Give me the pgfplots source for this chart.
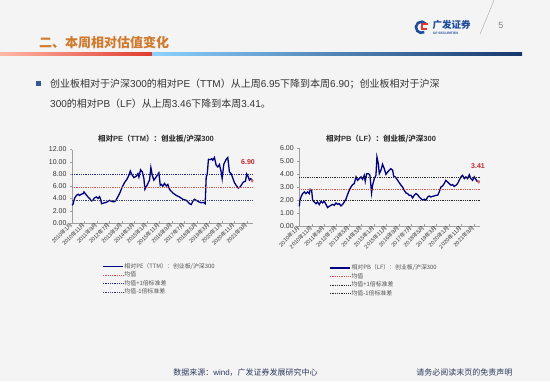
\documentclass[border=0pt]{standalone}
\usepackage{pgfplots}
\pgfplotsset{compat=1.18}
\usepackage{fontspec}
\setmainfont{Liberation Sans}
\newfontfamily\cjk{Noto Sans CJK SC}
\newcommand\zh[1]{{\cjk #1}}
\definecolor{bg}{HTML}{F4F4F4}
\definecolor{navyline}{HTML}{000080}
\definecolor{meanred}{HTML}{D9534F}
\definecolor{sdblue}{HTML}{1F2A7A}
\definecolor{sdgrey}{HTML}{3A3F6A}
\definecolor{titleorange}{HTML}{D07A2E}
\definecolor{gfblue}{HTML}{1F4E9A}
\definecolor{gfred}{HTML}{E03A2F}
\definecolor{footer}{HTML}{2E3A5E}
\definecolor{labred}{HTML}{C0282D}
\definecolor{txt}{HTML}{333333}

\pgfplotstableread{
m v
0 2.9
0.8 3.05
2 4.0
3.5 4.5
5 4.7
6 4.5
7.5 4.7
9 4.8
9.6 5.07
11 4.7
12.8 4.25
14.1 4.0
15.5 3.6
16.8 3.7
18 4.1
19.5 4.25
20.8 4.0
22.1 4.3
22.9 3.9
23.7 3.15
26.1 3.3
27.5 3.35
28.8 3.55
30.1 3.7
31.5 3.55
33.3 3.45
34.9 3.6
36 4.0
38.1 4.8
40.3 5.9
42.1 6.6
44 7.15
45.6 7.8
46.7 8.5
48 7.9
49.6 7.4
51.5 7.65
52.8 8.07
53.6 7.5
54.9 8.7
56.3 8.35
57.6 7.25
58.4 5.5
59.5 5.9
60.8 6.45
62.1 7.0
63.2 9.05
64.3 7.8
65.6 7.0
66.9 7.35
68.3 7.8
69.6 8.2
70.7 6.15
71.7 6.3
72.8 6.0
74.1 6.45
75.5 6.05
76.8 6.3
78.1 5.5
80.8 4.9
83.5 4.5
86.1 4.25
88.8 3.87
91.5 3.7
92.8 3.45
94.1 3.15
95.5 3.0
96.8 3.55
98.1 3.87
99.5 3.7
101.6 3.45
103.5 3.3
105.3 3.35
106.7 3.15
107.5 7.5
108.3 7.9
109.3 10.4
110.7 10.35
112 10.5
112.8 10.25
114.1 10.7
115.5 9.45
116.8 9.15
118.1 9.55
119.5 8.35
120.3 7.25
121.6 9.6
123.5 10.4
124.8 10.7
126.1 8.35
127.5 8.07
128.8 7.35
130.1 6.6
131.5 6.15
133.3 5.7
134.7 5.9
136 6.3
137.3 6.7
138.9 6.8
140 8.0
141.3 7.5
142.1 7.0
143.2 7.25
144.3 6.9
}\petable

\pgfplotstableread{
m v
0 1.53
0.5 2.0
1.6 2.3
2.7 2.5
4 2.63
5.3 2.5
6.7 2.63
8 2.5
8.8 2.83
9.9 2.75
10.7 2.0
12 1.86
13.4 1.73
14.7 1.86
16 1.66
17.4 1.91
18.7 1.79
20 1.91
21.4 1.68
22.7 1.43
24.1 1.53
25.4 1.6
26.7 1.68
28.1 1.6
29.4 1.79
30.7 1.68
32.1 1.73
33.4 1.56
34.8 1.68
36.1 1.86
37.4 2.07
38.8 2.45
40.1 2.75
41.4 3.0
42.8 3.19
44.1 3.27
45.5 3.78
46.8 3.52
48.1 3.65
49.5 3.78
50.8 3.6
52.1 3.9
52.9 3.44
54 4.03
55.6 4.03
56.7 3.9
58 2.55
58.8 3.14
60.2 3.65
61.5 3.9
62.3 5.31
63.4 4.8
64.2 4.03
65.5 4.29
66.8 4.75
68.2 4.41
69.5 3.98
70.9 4.16
72.2 4.29
73.5 4.41
74.9 4.29
75.7 3.85
77 3.78
78.9 3.52
80.2 3.34
81.6 3.14
82.9 3.0
84.2 2.75
85.6 2.55
86.9 2.5
88.2 2.37
89.6 2.37
90.9 2.17
92.2 2.37
93.6 2.5
94.9 2.42
96.3 2.24
97.6 2.12
99 2.0
100.3 2.07
101.6 2.0
103 2.24
104.3 2.32
105.6 2.24
107 2.3
108.3 2.32
109.6 2.37
111 2.37
112.3 2.63
113.6 3.0
115 3.09
116.3 3.27
117.6 3.52
119 3.39
120.3 3.27
121.7 3.14
123 3.19
124.3 3.06
125.7 3.14
127 3.27
128.3 3.52
129.7 3.78
131 3.9
132.4 3.65
133.7 3.78
135.1 3.65
136.4 3.95
137.7 3.65
139 3.52
140.4 3.78
142.7 3.44
144 3.41
}\pbtable

\pgfplotsset{
  gfaxis/.style={
    scale only axis, clip=false,
    axis lines*=left,
    axis line style={draw=gray!75, line width=0.5pt},
    xmin=0, xmax=145,
    xtick={0,10,...,140},
    xticklabels={2010\zh{年}1\zh{月},2010\zh{年}11\zh{月},2011\zh{年}9\zh{月},2012\zh{年}7\zh{月},2013\zh{年}5\zh{月},2014\zh{年}3\zh{月},2015\zh{年}1\zh{月},2015\zh{年}11\zh{月},2016\zh{年}9\zh{月},2017\zh{年}7\zh{月},2018\zh{年}5\zh{月},2019\zh{年}3\zh{月},2020\zh{年}1\zh{月},2020\zh{年}11\zh{月},2021\zh{年}9\zh{月}},
    xticklabel style={rotate=45, anchor=east, font=\fontsize{5.5}{6}\selectfont, text=txt, inner sep=1pt},
    yticklabel style={font=\fontsize{7}{8}\selectfont, text=txt},
    /pgf/number format/fixed, /pgf/number format/fixed zerofill,
    /pgf/number format/precision=2,
    /pgf/number format/assume math mode=true,
    xtick align=inside, ytick align=outside,
    major tick length=2pt,
    tick style={draw=gray!75, line width=0.4pt},
    legend cell align=left,
    legend image code/.code={\draw[##1] (0pt,0pt) -- (20pt,0pt);},
    legend style={draw=none, fill=none, anchor=north west,
      font=\cjk\fontsize{5.9}{6}\selectfont, text=txt!85,
      row sep=0pt,
      nodes={inner xsep=1pt, inner ysep=1pt, text height=5pt, text depth=1.5pt}},
  }
}

\begin{document}
\begin{tikzpicture}[x=1pt,y=1pt]
\fill[bg] (0,0) rectangle (550,381);
% header
\node[anchor=west, inner sep=0pt, text=titleorange, font=\cjk\bfseries\fontsize{13}{14}\selectfont] at (39,339) {二、本周相对估值变化};
\shade[left color=orange!40!red!35, right color=gfred] (0,326) rectangle (152,328.6);
\shade[left color=cyan!60!blue!45, right color=gfblue!70!black] (152,326) rectangle (522,328.6);
% logo
\draw[gfblue, line width=2.6pt] (421.5,354) ++(40:5.6) arc (40:300:5.6);
\fill[gfred] (421.2,351) rectangle (427.4,353.2);
\fill[gfred] (421.2,351) rectangle (423.4,358.6);
\fill[gfred] (421.2,356.4) rectangle (428,358.6);
\node[anchor=west, inner sep=0pt, text=gfblue, font=\cjk\bfseries\fontsize{9.5}{10}\selectfont] at (432.5,356) {广发证券};
\node[anchor=west, inner sep=0pt, text=gfblue, font=\bfseries\fontsize{3.3}{4}\selectfont] at (432.8,348.3) {GF SECURITIES};
\draw[gray!60, line width=0.5pt] (480,347) -- (494,381);
\node[text=gray, font=\fontsize{9}{10}\selectfont] at (501,355.5) {5};
% bullet
\fill[gfblue!80!gray] (36,295) rectangle (41,300);
\node[anchor=west, inner sep=0pt, text=txt, font=\fontsize{10}{12}\selectfont] at (50,297.3) {\zh{创业板相对于沪深}300\zh{的相对}PE\zh{（}TTM\zh{）从上周}6.95\zh{下降到本周}6.90\zh{；创业板相对于沪深}};
\node[anchor=west, inner sep=0pt, text=txt, font=\fontsize{10}{12}\selectfont] at (50,277.7) {300\zh{的相对}PB\zh{（}LF\zh{）从上周}3.46\zh{下降到本周}3.41\zh{。}};
% chart titles
\node[text=txt, font=\bfseries\fontsize{7.5}{8}\selectfont] at (156,242) {\zh{相对}PE\zh{（}TTM\zh{）：创业板/沪深}300};
\node[text=txt, font=\bfseries\fontsize{7.5}{8}\selectfont] at (381,242) {\zh{相对}PB\zh{（}LF\zh{）：创业板/沪深}300};

\begin{axis}[gfaxis, at={(72pt,158.3pt)}, anchor=south west,
  width=181pt, height=73.4pt, ymin=0, ymax=12, ytick={0,2,...,12},
  legend style={at={(0.149,-0.505)}}]
\addplot[navyline, line width=1.3pt] table[x=m,y=v] {\petable};
\addlegendentry{相对PE（TTM）：创业板/沪深300}
\addplot[meanred, densely dotted, line width=0.8pt] coordinates {(0,5.87) (145,5.87)};
\addlegendentry{均值}
\addplot[sdblue, densely dotted, line width=0.8pt] coordinates {(0,7.98) (145,7.98)};
\addlegendentry{均值+1倍标准差}
\addplot[sdgrey, densely dotted, line width=0.8pt] coordinates {(0,3.72) (145,3.72)};
\addlegendentry{均值-1倍标准差}
\addplot[forget plot, only marks, mark=diamond*, mark size=1.6pt, color=labred!70] coordinates {(144.3,6.9)};
\node[text=labred, font=\bfseries\fontsize{7}{8}\selectfont] at (axis cs:141,9.9) {6.90};
\end{axis}

\begin{axis}[gfaxis, at={(299.3pt,155pt)}, anchor=south west,
  width=180.7pt, height=78.3pt, ymin=0, ymax=6, ytick={0,1,...,6},
  legend style={at={(0.148,-0.452)}}]
\addplot[navyline, line width=1.3pt] table[x=m,y=v] {\pbtable};
\addlegendentry{相对PB（LF）：创业板/沪深300}
\addplot[meanred, densely dotted, line width=0.8pt] coordinates {(0,2.83) (145,2.83)};
\addlegendentry{均值}
\addplot[black!85, densely dotted, line width=0.8pt] coordinates {(0,3.73) (145,3.73)};
\addlegendentry{均值+1倍标准差}
\addplot[black!85, densely dotted, line width=0.8pt] coordinates {(0,1.97) (145,1.97)};
\addlegendentry{均值-1倍标准差}
\addplot[forget plot, only marks, mark=diamond*, mark size=1.6pt, color=labred!70] coordinates {(144,3.41)};
\node[text=labred, font=\bfseries\fontsize{7}{8}\selectfont] at (axis cs:143.4,4.62) {3.41};
\end{axis}

% footer
\node[text=footer, font=\fontsize{8}{9}\selectfont] at (245.5,8.3) {\zh{数据来源：}wind\zh{，广发证券发展研究中心}};
\node[anchor=east, text=footer, font=\cjk\fontsize{8}{9}\selectfont] at (516,8.3) {请务必阅读末页的免责声明};
\end{tikzpicture}
\end{document}
